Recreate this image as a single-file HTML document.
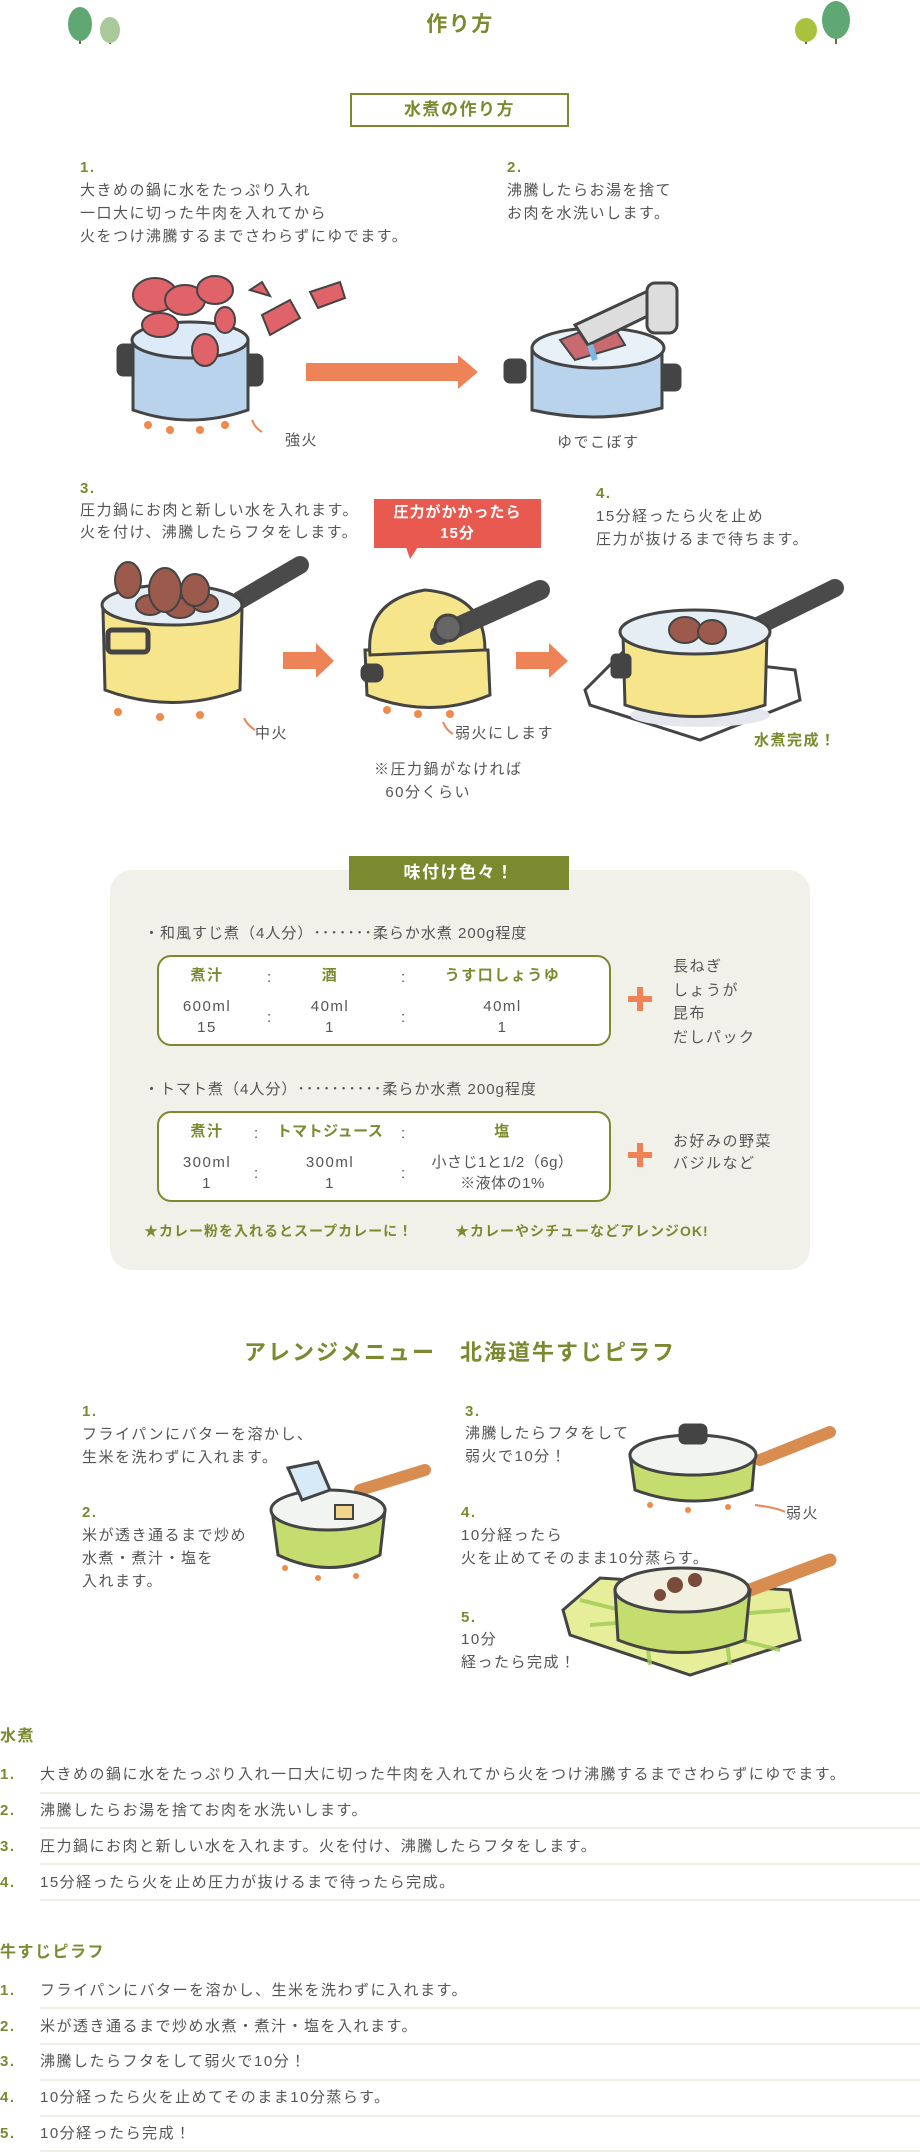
<!DOCTYPE html>
<html><head><meta charset="utf-8"><style>
*{margin:0;padding:0;box-sizing:border-box}
body{width:920px;height:2152px;position:relative;background:#fff;font-family:"Liberation Sans","Noto Sans CJK JP",sans-serif;color:#555;overflow:hidden}
.t{position:absolute;font-size:15px;line-height:23px;white-space:nowrap;letter-spacing:1.5px}
.g{color:#7b8a2f;font-weight:bold}
.c{text-align:center}
.ln{position:absolute;left:40px;width:880px;height:2px;background:#efefe8}
svg{position:absolute;left:0;top:0}
</style></head><body>

<svg width="920" height="2152" viewBox="0 0 920 2152">
<g>
<rect x="79" y="30" width="2" height="14" fill="#8a5a3a"/><ellipse cx="80" cy="24" rx="12" ry="17" fill="#5fa873"/>
<rect x="109" y="34" width="2" height="10" fill="#8a5a3a"/><ellipse cx="110" cy="30" rx="10" ry="13" fill="#a9c99a"/>
<rect x="805" y="34" width="2" height="10" fill="#8a5a3a"/><ellipse cx="806" cy="30" rx="11" ry="12" fill="#a9c23e"/>
<rect x="835" y="28" width="2" height="16" fill="#8a5a3a"/><ellipse cx="836" cy="20" rx="14" ry="19" fill="#5fa873"/>
</g>
<g stroke="#444" stroke-width="3">
<rect x="118" y="345" width="22" height="30" rx="5" fill="#444"/>
<rect x="240" y="355" width="22" height="30" rx="5" fill="#444"/>
<path d="M133 340 L133 410 Q190 430 248 410 L248 340 Z" fill="#b9d3ec"/>
<ellipse cx="190" cy="340" rx="58" ry="18" fill="#dcebf7"/>
</g>
<g fill="#e0636a" stroke="#444" stroke-width="2">
<ellipse cx="155" cy="295" rx="22" ry="17"/><ellipse cx="185" cy="300" rx="20" ry="15"/><ellipse cx="215" cy="290" rx="18" ry="14"/>
<ellipse cx="160" cy="325" rx="18" ry="12"/><ellipse cx="205" cy="350" rx="13" ry="16"/><ellipse cx="225" cy="320" rx="10" ry="13"/>
<path d="M262 315 L290 300 L300 318 L270 335 Z"/><path d="M310 292 L340 282 L345 298 L318 308 Z"/><path d="M250 290 L262 282 L270 296 Z"/>
</g>
<g fill="#f08a4b"><circle cx="148" cy="425" r="4"/><circle cx="170" cy="430" r="4"/><circle cx="200" cy="430" r="4"/><circle cx="225" cy="425" r="4"/></g>
<path d="M262 432 Q255 428 252 420" stroke="#ee8358" stroke-width="2" fill="none"/>
<polygon points="306,363 458,363 458,355 478,372 458,389 458,381 306,381" fill="#ee8358"/>
<g stroke="#444" stroke-width="3">
<rect x="505" y="360" width="20" height="22" rx="5" fill="#444"/><rect x="660" y="365" width="20" height="25" rx="5" fill="#444"/>
<path d="M532 348 L532 410 Q598 425 662 408 L662 348 Z" fill="#b9d3ec"/>
<ellipse cx="598" cy="348" rx="66" ry="20" fill="#e8f1f8"/>
<path d="M560 340 L610 320 L625 345 L575 360 Z" fill="#c86a70" stroke-width="2"/>
</g>
<g fill="#ddd" stroke="#444" stroke-width="3">
<path d="M575 325 L650 290 L660 310 L588 345 Z"/><rect x="647" y="283" width="30" height="50" rx="8"/>
</g>
<path d="M590 345 L595 360" stroke="#7cb7e0" stroke-width="6"/>
<path d="M255 730 Q248 726 244 718" stroke="#ee8358" stroke-width="2" fill="none"/>
<g stroke="#444" stroke-width="3">
<path d="M240 600 L300 565" stroke="#4a4a4a" stroke-width="18" stroke-linecap="round"/>
<path d="M103 610 L105 690 Q172 715 240 690 L242 610 Z" fill="#f6e58a"/>
<ellipse cx="172" cy="605" rx="70" ry="20" fill="#e4eef4"/>
<rect x="108" y="630" width="40" height="22" rx="4" fill="none" stroke-width="5"/>
</g>
<g fill="#9b5a4b" stroke="#444" stroke-width="2">
<ellipse cx="150" cy="605" rx="14" ry="10"/><ellipse cx="180" cy="608" rx="15" ry="10"/><ellipse cx="205" cy="603" rx="13" ry="9"/>
<ellipse cx="128" cy="580" rx="13" ry="18"/><ellipse cx="165" cy="590" rx="16" ry="22"/><ellipse cx="195" cy="590" rx="14" ry="16"/>
</g>
<g fill="#f08a4b"><circle cx="118" cy="712" r="4"/><circle cx="160" cy="717" r="4"/><circle cx="200" cy="715" r="4"/></g>
<polygon points="283,652 316,652 316,643 334,661 316,678 316,669 283,669" fill="#ee8358"/>
<g stroke="#444" stroke-width="3">
<path d="M365 650 L367 695 Q430 720 490 695 L488 650 Z" fill="#f6e58a"/>
<path d="M370 655 Q365 600 425 590 Q485 595 485 650 Z" fill="#f6e58a"/>
<rect x="362" y="665" width="20" height="16" rx="6" fill="#444"/>
<path d="M440 635 L540 590" stroke="#4a4a4a" stroke-width="20" stroke-linecap="round"/>
<circle cx="448" cy="628" r="13" fill="#666"/>
</g>
<g fill="#f08a4b"><circle cx="387" cy="710" r="4"/><circle cx="418" cy="714" r="4"/><circle cx="450" cy="714" r="4"/></g>
<path d="M453 734 Q446 730 443 722" stroke="#ee8358" stroke-width="2" fill="none"/>
<polygon points="516,652 549,652 549,643 568,661 549,678 549,669 516,669" fill="#ee8358"/>
<path d="M585 690 L625 650 L795 670 L800 700 L700 740 L590 705 Z" fill="#fff" stroke="#444" stroke-width="3"/>
<ellipse cx="700" cy="715" rx="70" ry="12" fill="#e4e8ee"/>
<g stroke="#444" stroke-width="3">
<path d="M760 625 L835 588" stroke="#4a4a4a" stroke-width="18" stroke-linecap="round"/>
<path d="M623 635 L625 705 Q695 728 765 705 L767 635 Z" fill="#f6e58a"/>
<ellipse cx="695" cy="632" rx="75" ry="22" fill="#e4eef4"/>
<rect x="612" y="655" width="18" height="22" rx="4" fill="#444"/>
</g>
<g fill="#9b5a4b" stroke="#444" stroke-width="2"><ellipse cx="685" cy="630" rx="16" ry="13"/><ellipse cx="712" cy="632" rx="14" ry="12"/></g>

<g stroke="#444" stroke-width="3">
<path d="M360 1490 L425 1470" stroke="#d98c50" stroke-width="12" stroke-linecap="round"/>
<path d="M272 1510 L278 1555 Q330 1580 380 1555 L385 1510 Z" fill="#c5dd6e"/>
<ellipse cx="328" cy="1510" rx="57" ry="20" fill="#f2f4f2"/>
<rect x="335" y="1505" width="18" height="14" fill="#f0d58a" stroke-width="2"/>
<path d="M288 1468 L318 1462 L330 1490 L302 1500 Z" fill="#d6ebf7"/>
</g>
<g fill="#f08a4b"><circle cx="285" cy="1568" r="3"/><circle cx="318" cy="1578" r="3"/><circle cx="356" cy="1576" r="3"/></g>
<g stroke="#444" stroke-width="3">
<path d="M760 1460 L830 1432" stroke="#d98c50" stroke-width="12" stroke-linecap="round"/>
<path d="M630 1455 L635 1490 Q695 1512 752 1490 L755 1455 Z" fill="#c5dd6e"/>
<ellipse cx="693" cy="1455" rx="63" ry="20" fill="#f2f4f2"/>
<rect x="680" y="1425" width="26" height="18" rx="5" fill="#444"/>
</g>
<g fill="#f08a4b"><circle cx="650" cy="1505" r="3"/><circle cx="688" cy="1510" r="3"/><circle cx="728" cy="1507" r="3"/></g>
<path d="M785 1512 Q778 1508 755 1505" stroke="#ee8358" stroke-width="2" fill="none"/>
<path d="M563 1610 L600 1578 L790 1590 L800 1640 L690 1675 L570 1635 Z" fill="#e7ee9a" stroke="#444" stroke-width="3"/>
<g stroke="#9fcc54" stroke-width="4" opacity=".8"><path d="M580 1600 L780 1650"/><path d="M590 1625 L790 1610"/><path d="M640 1585 L650 1665"/><path d="M720 1590 L730 1665"/></g>
<g stroke="#444" stroke-width="3">
<path d="M750 1590 L830 1560" stroke="#d98c50" stroke-width="13" stroke-linecap="round"/>
<path d="M615 1590 L618 1640 Q680 1665 745 1640 L750 1590 Z" fill="#c5dd6e"/>
<ellipse cx="682" cy="1590" rx="67" ry="22" fill="#f2f0e0"/>
</g>
<g fill="#7a4a3a"><circle cx="675" cy="1585" r="8"/><circle cx="695" cy="1580" r="7"/><circle cx="660" cy="1595" r="6"/></g>
</svg>

<div class="t g c" style="left:0;width:920px;top:12px;font-size:21px;line-height:26px">作り方</div>
<div style="position:absolute;left:350px;top:93px;width:219px;height:34px;border:2px solid #7b8a2f"></div>
<div class="t g c" style="left:350px;width:219px;top:98px;font-size:17px;line-height:24px">水煮の作り方</div>

<div class="t g" style="left:80px;top:156px">1.</div>
<div class="t" style="left:80px;top:179px">大きめの鍋に水をたっぷり入れ<br>一口大に切った牛肉を入れてから<br>火をつけ沸騰するまでさわらずにゆでます。</div>
<div class="t g" style="left:507px;top:156px">2.</div>
<div class="t" style="left:507px;top:179px">沸騰したらお湯を捨て<br>お肉を水洗いします。</div>
<div class="t" style="left:285px;top:429px">強火</div>
<div class="t" style="left:557px;top:431px">ゆでこぼす</div>

<div class="t g" style="left:80px;top:477px">3.</div>
<div class="t" style="left:80px;top:500px;line-height:22px">圧力鍋にお肉と新しい水を入れます。<br>火を付け、沸騰したらフタをします。</div>
<div style="position:absolute;left:374px;top:499px;width:167px;height:49px;background:#e85a50"></div>
<div style="position:absolute;left:406px;top:547px;width:0;height:0;border-left:4px solid transparent;border-right:8px solid transparent;border-top:12px solid #e85a50"></div>
<div class="t c" style="left:374px;width:167px;top:502px;color:#fff;font-weight:bold;line-height:21px;letter-spacing:1px">圧力がかかったら<br>15分</div>
<div class="t g" style="left:596px;top:482px">4.</div>
<div class="t" style="left:596px;top:505px">15分経ったら火を止め<br>圧力が抜けるまで待ちます。</div>
<div class="t" style="left:255px;top:722px">中火</div>
<div class="t" style="left:455px;top:722px">弱火にします</div>
<div class="t" style="left:374px;top:758px">※圧力鍋がなければ<br>&nbsp;&nbsp;60分くらい</div>
<div class="t g" style="left:754px;top:729px">水煮完成！</div>

<div style="position:absolute;left:110px;top:870px;width:700px;height:400px;background:#f1f1ea;border-radius:22px"></div>
<div style="position:absolute;left:349px;top:856px;width:220px;height:34px;background:#7b8a2f"></div>
<div class="t c" style="left:349px;width:220px;top:861px;color:#fff;font-weight:bold;font-size:17px;line-height:24px">味付け色々！</div>

<div class="t" style="left:144px;top:922px;letter-spacing:1px">・和風すじ煮（4人分）･･･････柔らか水煮 200g程度</div>
<div style="position:absolute;left:157px;top:955px;width:454px;height:91px;border:2px solid #7b8a2f;border-radius:14px;background:#fff"></div>
<div class="t g c" style="left:157px;width:100px;top:964px">煮汁</div>
<div class="t g c" style="left:280px;width:100px;top:964px">酒</div>
<div class="t g c" style="left:420px;width:165px;top:964px">うす口しょうゆ</div>
<div class="t c" style="left:157px;width:100px;top:996px;line-height:21px">600ml<br>15</div>
<div class="t c" style="left:280px;width:100px;top:996px;line-height:21px">40ml<br>1</div>
<div class="t c" style="left:420px;width:165px;top:996px;line-height:21px">40ml<br>1</div>
<div class="t" style="left:267px;top:966px">:</div><div class="t" style="left:401px;top:966px">:</div>
<div class="t" style="left:267px;top:1006px">:</div><div class="t" style="left:401px;top:1006px">:</div>
<div class="t" style="left:673px;top:955px;line-height:23.5px">長ねぎ<br>しょうが<br>昆布<br>だしパック</div>

<div class="t" style="left:144px;top:1078px;letter-spacing:1px">・トマト煮（4人分）･･････････柔らか水煮 200g程度</div>
<div style="position:absolute;left:157px;top:1111px;width:454px;height:91px;border:2px solid #7b8a2f;border-radius:14px;background:#fff"></div>
<div class="t g c" style="left:157px;width:100px;top:1120px">煮汁</div>
<div class="t g c" style="left:268px;width:124px;top:1120px;letter-spacing:.5px">トマトジュース</div>
<div class="t g c" style="left:420px;width:165px;top:1120px">塩</div>
<div class="t c" style="left:157px;width:100px;top:1152px;line-height:21px">300ml<br>1</div>
<div class="t c" style="left:280px;width:100px;top:1152px;line-height:21px">300ml<br>1</div>
<div class="t c" style="left:420px;width:165px;top:1152px;line-height:21px;letter-spacing:.5px">小さじ1と1/2（6g）<br>※液体の1%</div>
<div class="t" style="left:254px;top:1122px">:</div><div class="t" style="left:401px;top:1122px">:</div>
<div class="t" style="left:254px;top:1162px">:</div><div class="t" style="left:401px;top:1162px">:</div>
<div class="t" style="left:673px;top:1131px;line-height:22px">お好みの野菜<br>バジルなど</div>

<svg width="920" height="2152" viewBox="0 0 920 2152" style="pointer-events:none">
<g fill="#ee8358"><rect x="628" y="996" width="24" height="6"/><rect x="637" y="987" width="6" height="24"/>
<rect x="628" y="1152" width="24" height="6"/><rect x="637" y="1143" width="6" height="24"/></g>
</svg>
<div class="t g" style="left:144px;top:1220px;font-size:14px;letter-spacing:1px">★カレー粉を入れるとスープカレーに！</div>
<div class="t g" style="left:455px;top:1220px;font-size:14px;letter-spacing:1px">★カレーやシチューなどアレンジOK!</div>

<div class="t g c" style="left:0;width:920px;top:1339px;font-size:22px;line-height:28px;letter-spacing:2px">アレンジメニュー　北海道牛すじピラフ</div>
<div class="t g" style="left:82px;top:1400px">1.</div>
<div class="t" style="left:82px;top:1423px">フライパンにバターを溶かし、<br>生米を洗わずに入れます。</div>
<div class="t g" style="left:82px;top:1501px">2.</div>
<div class="t" style="left:82px;top:1524px">米が透き通るまで炒め<br>水煮・煮汁・塩を<br>入れます。</div>
<div class="t g" style="left:465px;top:1400px">3.</div>
<div class="t" style="left:465px;top:1422px">沸騰したらフタをして<br>弱火で10分！</div>
<div class="t g" style="left:461px;top:1501px">4.</div>
<div class="t" style="left:461px;top:1524px">10分経ったら<br>火を止めてそのまま10分蒸らす。</div>
<div class="t" style="left:786px;top:1502px">弱火</div>
<div class="t g" style="left:461px;top:1606px">5.</div>
<div class="t" style="left:461px;top:1628px">10分<br>経ったら完成！</div>

<div class="t g" style="left:0;top:1725px;font-size:16px">水煮</div>
<div class="t g" style="left:0;top:1763px">1.</div><div class="t" style="left:40px;top:1763px">大きめの鍋に水をたっぷり入れ一口大に切った牛肉を入れてから火をつけ沸騰するまでさわらずにゆでます。</div>
<div class="ln" style="top:1792px"></div>
<div class="t g" style="left:0;top:1799px">2.</div><div class="t" style="left:40px;top:1799px">沸騰したらお湯を捨てお肉を水洗いします。</div>
<div class="ln" style="top:1827px"></div>
<div class="t g" style="left:0;top:1835px">3.</div><div class="t" style="left:40px;top:1835px">圧力鍋にお肉と新しい水を入れます。火を付け、沸騰したらフタをします。</div>
<div class="ln" style="top:1863px"></div>
<div class="t g" style="left:0;top:1871px">4.</div><div class="t" style="left:40px;top:1871px">15分経ったら火を止め圧力が抜けるまで待ったら完成。</div>
<div class="ln" style="top:1899px"></div>

<div class="t g" style="left:0;top:1941px;font-size:16px">牛すじピラフ</div>
<div class="t g" style="left:0;top:1979px">1.</div><div class="t" style="left:40px;top:1979px">フライパンにバターを溶かし、生米を洗わずに入れます。</div>
<div class="ln" style="top:2007px"></div>
<div class="t g" style="left:0;top:2015px">2.</div><div class="t" style="left:40px;top:2015px">米が透き通るまで炒め水煮・煮汁・塩を入れます。</div>
<div class="ln" style="top:2043px"></div>
<div class="t g" style="left:0;top:2050px">3.</div><div class="t" style="left:40px;top:2050px">沸騰したらフタをして弱火で10分！</div>
<div class="ln" style="top:2079px"></div>
<div class="t g" style="left:0;top:2086px">4.</div><div class="t" style="left:40px;top:2086px">10分経ったら火を止めてそのまま10分蒸らす。</div>
<div class="ln" style="top:2115px"></div>
<div class="t g" style="left:0;top:2122px">5.</div><div class="t" style="left:40px;top:2122px">10分経ったら完成！</div>
<div class="ln" style="top:2150px"></div>
</body></html>
